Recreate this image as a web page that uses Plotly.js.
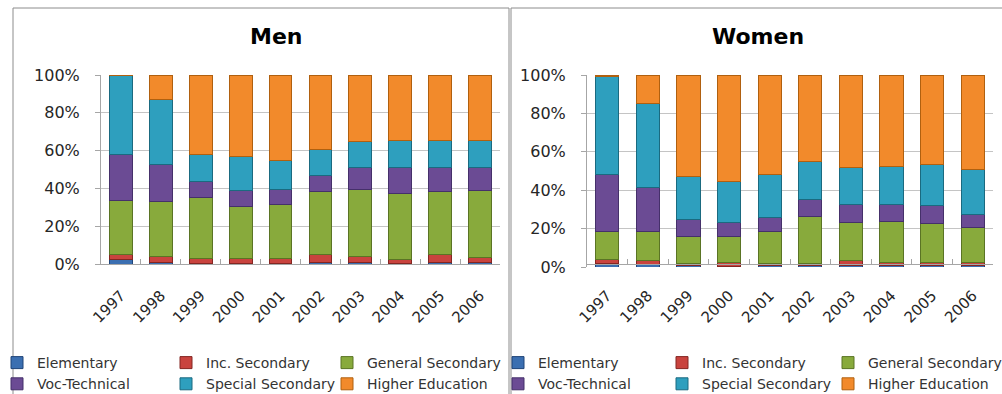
<!DOCTYPE html>
<html>
<head>
<meta charset="utf-8">
<script src="https://cdn.plot.ly/plotly-3.0.1.min.js"></script>
<style>
  html, body { margin: 0; padding: 0; background: #ffffff; }
  #chart { width: 1002px; height: 394px; }
</style>
</head>
<body>
<div id="chart"></div>
<script>
// Years shown on both panels
const years = ['1997', '1998', '1999', '2000', '2001', '2002', '2003', '2004', '2005', '2006'];

// Education level names (legend and stacking order, bottom to top)
const levels = ['Elementary', 'Inc. Secondary', 'General Secondary', 'Voc-Technical', 'Special Secondary', 'Higher Education'];

// Men: share of each education level, percent
const menElementary = [2.5, 0.8, 0.5, 0.5, 0.5, 0.6, 0.6, 0.5, 0.6, 0.6];
const menIncSecondary = [2.4, 3.1, 2.5, 2.5, 2.5, 4.2, 3.6, 2.1, 4.2, 2.9];
const menGeneralSecondary = [28.6, 29.1, 32.3, 27.3, 28.7, 33.5, 35.3, 34.8, 33.5, 35.3];
const menVocTechnical = [24.5, 19.4, 8.3, 8.5, 7.8, 8.3, 11.5, 13.6, 12.7, 12.2];
const menSpecialSecondary = [41.5, 34.7, 14.6, 18.3, 15.5, 14.2, 13.7, 14.1, 14.1, 14.6];
const menHigherEducation = [0.5, 12.9, 41.8, 42.9, 45.0, 39.2, 35.3, 34.9, 34.9, 34.4];

// Women: share of each education level, percent
const womenElementary = [1.6, 1.2, 0.8, 0.5, 0.6, 0.6, 0.8, 0.6, 0.8, 0.8];
const womenIncSecondary = [2.4, 2.1, 0.8, 1.7, 1.2, 1.3, 2.8, 1.6, 1.4, 1.4];
const womenGeneralSecondary = [14.4, 15.1, 14.2, 13.6, 16.6, 24.3, 19.7, 21.6, 20.6, 18.5];
const womenVocTechnical = [29.9, 23.1, 9.2, 7.5, 7.5, 8.7, 9.0, 8.5, 9.1, 6.7];
const womenSpecialSecondary = [50.8, 43.8, 22.0, 21.1, 22.5, 19.9, 19.4, 20.0, 21.6, 23.6];
const womenHigherEducation = [0.9, 14.7, 53.0, 55.6, 51.6, 45.2, 48.3, 47.7, 46.5, 49.0];

// Y-axis tick values and labels
const pctTicks = [0, 20, 40, 60, 80, 100];
const pctLabels = ['0%', '20%', '40%', '60%', '80%', '100%'];

// Fill and edge colours per level
const fills = ['#3B6FB1', '#C9433E', '#88AA3C', '#6B4B94', '#2E9FBE', '#F28A2B'];
const edges = ['#1F4478', '#842622', '#5A7424', '#45306A', '#1A6A80', '#B0600F'];

const menSeries = [menElementary, menIncSecondary, menGeneralSecondary, menVocTechnical, menSpecialSecondary, menHigherEducation];
const womenSeries = [womenElementary, womenIncSecondary, womenGeneralSecondary, womenVocTechnical, womenSpecialSecondary, womenHigherEducation];

const W = 1002, H = 394;
const px = v => v / W;
const py = v => 1 - v / H;

// Legend columns: level i goes into column i % 3 of its panel
const menLegends = ['legend', 'legend2', 'legend3'];
const womenLegends = ['legend4', 'legend5', 'legend6'];

function barTrace(values, i, xa, ya, legendId) {
  return {
    type: 'bar',
    x: years,
    y: values,
    name: levels[i],
    xaxis: xa,
    yaxis: ya,
    legend: legendId,
    marker: { color: fills[i], line: { color: edges[i], width: 1 } },
    hoverinfo: 'x+y+name'
  };
}

const traces = [];
menSeries.forEach((s, i) => traces.push(barTrace(s, i, 'x', 'y', menLegends[i % 3])));
womenSeries.forEach((s, i) => traces.push(barTrace(s, i, 'x2', 'y2', womenLegends[i % 3])));

const tickFont = { family: 'DejaVu Sans, sans-serif', size: 16, color: '#262626' };
const xTickFont = { family: 'DejaVu Sans, sans-serif', size: 15, color: '#262626' };
const legendFont = { family: 'DejaVu Sans, sans-serif', size: 14, color: '#333333' };

function xAxis(domain) {
  return {
    domain: domain,
    type: 'category',
    showline: true, linecolor: '#a6a6a6', linewidth: 1,
    ticks: 'inside', tickson: 'boundaries', ticklen: 5, tickcolor: '#a6a6a6',
    tickangle: -45, tickfont: xTickFont, ticklabelstandoff: 16,
    showgrid: false, zeroline: false, fixedrange: true
  };
}
function yAxis(domain, anchor) {
  return {
    domain: domain,
    anchor: anchor,
    range: [0, 100],
    tickvals: pctTicks, ticktext: pctLabels,
    showline: true, linecolor: '#a6a6a6', linewidth: 1,
    ticks: 'outside', ticklen: 5, tickcolor: '#a6a6a6',
    tickfont: tickFont, ticklabelstandoff: 12,
    showgrid: true, gridcolor: '#c4c4c4', gridwidth: 1,
    zeroline: false, fixedrange: true
  };
}

function legendColumn(textLeft) {
  return {
    orientation: 'v', x: px(textLeft - 40), xanchor: 'left', y: py(347), yanchor: 'top',
    font: legendFont, bgcolor: 'rgba(0,0,0,0)', borderwidth: 0,
    traceorder: 'normal', itemclick: false, itemdoubleclick: false
  };
}

const layout = {
  width: W, height: H,
  margin: { l: 0, r: 0, t: 0, b: 0, autoexpand: false },
  paper_bgcolor: '#ffffff', plot_bgcolor: '#ffffff',
  barmode: 'stack', bargap: 0.43,
  showlegend: true,
  xaxis: xAxis([px(101), px(500)]),
  yaxis: yAxis([py(264), py(75)], 'x'),
  xaxis2: xAxis([px(587), px(993)]),
  yaxis2: yAxis([py(267), py(75)], 'x2'),
  legend: legendColumn(37),
  legend2: legendColumn(206),
  legend3: legendColumn(367),
  legend4: legendColumn(538),
  legend5: legendColumn(702),
  legend6: legendColumn(868),
  annotations: [
    { text: '<b>Men</b>', xref: 'paper', yref: 'paper', x: px(276), y: py(36), xanchor: 'center', yanchor: 'middle', showarrow: false,
      font: { family: 'DejaVu Sans, sans-serif', size: 22, color: '#000000' } },
    { text: '<b>Women</b>', xref: 'paper', yref: 'paper', x: px(758), y: py(36), xanchor: 'center', yanchor: 'middle', showarrow: false,
      font: { family: 'DejaVu Sans, sans-serif', size: 22, color: '#000000' } }
  ],
  shapes: [
    { type: 'rect', xref: 'paper', yref: 'paper', x0: px(13), x1: px(509), y0: py(8), y1: py(420), line: { color: '#8c8c8c', width: 1 }, layer: 'below' },
    { type: 'rect', xref: 'paper', yref: 'paper', x0: px(511), x1: px(1010), y0: py(8), y1: py(420), line: { color: '#8c8c8c', width: 1 }, layer: 'below' }
  ]
};

Plotly.newPlot('chart', traces, layout, { displayModeBar: false });
</script>
</body>
</html>
